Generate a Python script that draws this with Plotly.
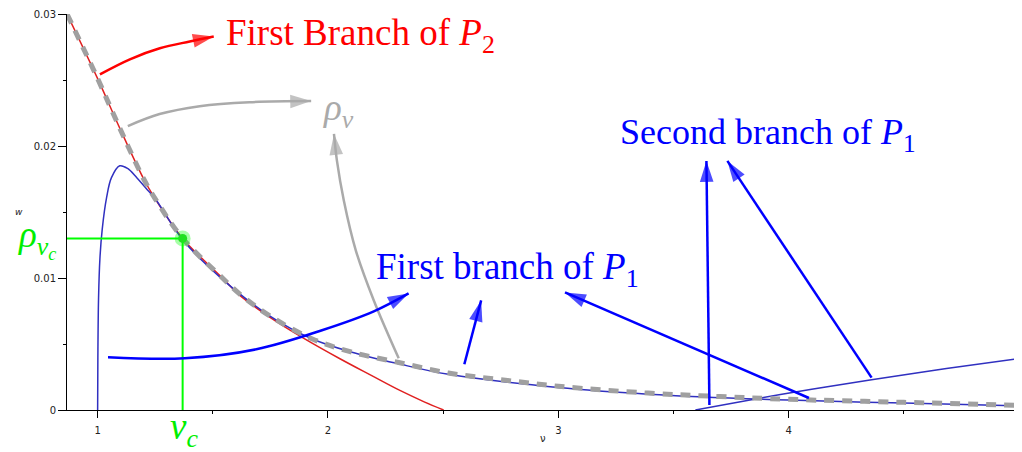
import plotly.graph_objects as go

# ---- curves (nu, w) ----
nu_rho = [0.867, 1.0, 1.1, 1.2, 1.25, 1.369, 1.542, 1.616, 1.75, 1.93, 2.1, 2.307, 2.523, 2.75, 3.0, 3.39, 3.7, 4.0, 4.5, 5.0]
w_rho = [0.0300, 0.0251, 0.0212, 0.0175, 0.0160, 0.0130, 0.0100, 0.0088, 0.0071, 0.0054, 0.0044, 0.0036, 0.0028, 0.0023, 0.0018, 0.00128, 0.00102, 0.00081, 0.00058, 0.00035]

nu_p2 = [0.867, 1.0, 1.1, 1.2, 1.25, 1.369, 1.542, 1.616, 1.75, 1.888, 2.05, 2.19, 2.31, 2.42, 2.502]
w_p2 = [0.0300, 0.0251, 0.0212, 0.0175, 0.0160, 0.0130, 0.0100, 0.0087, 0.0070, 0.0055, 0.0039, 0.0026, 0.0015, 0.0006, 0.0]

nu_p1a = [1.0, 1.001, 1.004, 1.010, 1.020, 1.039, 1.060, 1.096, 1.13, 1.17, 1.21, 1.25, 1.369, 1.542, 1.75, 1.93, 2.1, 2.307, 2.523, 3.0, 3.39, 4.0, 4.5, 5.0]
w_p1a = [0.0, 0.0040, 0.0085, 0.0115, 0.0137, 0.0161, 0.0176, 0.0185, 0.0183, 0.0176, 0.0168, 0.0160, 0.0129, 0.0099, 0.0071, 0.0054, 0.0044, 0.0035, 0.0027, 0.0017, 0.0012, 0.00075, 0.00053, 0.00032]

nu_p1b = [3.595, 3.85, 4.10, 4.36, 4.685, 5.0]
w_p1b = [0.0, 0.00082, 0.00157, 0.00230, 0.00314, 0.0039]

nu_c = 1.369
rho_c = 0.0130

x_ticks = [1, 2, 3, 4, 5]
y_ticks = [0, 0.01, 0.02, 0.03]
y_labels = ["0", "0.01", "0.02", "0.03"]

# ---- annotation arrows (nu, w paths, tip last) ----
arrows = [
    ("red", [1.010, 1.140, 1.270, 1.400, 1.504], [0.02543, 0.02657, 0.02740, 0.02792, 0.02830]),
    ("#aaaaaa", [1.131, 1.269, 1.443, 1.659, 1.927], [0.02151, 0.02242, 0.02302, 0.02332, 0.02340]),
    ("#aaaaaa", [2.307, 2.199, 2.121, 2.069, 2.039, 2.026], [0.00392, 0.00830, 0.01208, 0.01585, 0.01887, 0.02091]),
    ("blue", [1.045, 1.378, 1.689, 1.974, 2.199, 2.350], [0.00400, 0.00392, 0.00460, 0.00604, 0.00747, 0.00883]),
    ("blue", [2.592, 2.665], [0.00347, 0.00830]),
    ("blue", [4.088, 3.029], [0.00091, 0.00891]),
    ("blue", [3.656, 3.643], [0.00038, 0.01887]),
    ("blue", [4.360, 3.734], [0.00245, 0.01887]),
]

fig = go.Figure()

fig.add_trace(go.Scatter(x=nu_p2, y=w_p2, mode="lines", line=dict(color="#e02020", width=1.5, shape="spline"), hoverinfo="skip"))
fig.add_trace(go.Scatter(x=nu_p1a, y=w_p1a, mode="lines", line=dict(color="#3030c0", width=1.5, shape="spline"), hoverinfo="skip"))
fig.add_trace(go.Scatter(x=nu_p1b, y=w_p1b, mode="lines", line=dict(color="#3030c0", width=1.5, shape="spline"), hoverinfo="skip"))
fig.add_trace(go.Scatter(x=nu_rho, y=w_rho, mode="lines", line=dict(color="#a0a0a0", width=5, dash="10px,8px", shape="spline"), hoverinfo="skip"))

# green guide lines + critical point
fig.add_trace(go.Scatter(x=[0.867, nu_c, nu_c], y=[rho_c, rho_c, 0], mode="lines", line=dict(color="#00ff00", width=2), hoverinfo="skip"))
fig.add_trace(go.Scatter(x=[nu_c], y=[rho_c], mode="markers", marker=dict(color="rgba(0,255,0,0.35)", size=16), hoverinfo="skip"))
fig.add_trace(go.Scatter(x=[nu_c], y=[rho_c], mode="markers", marker=dict(color="#20e020", size=9), hoverinfo="skip"))

for col, ax_, ay_ in arrows:
    sizes = [0] * (len(ax_) - 1) + [22]
    fig.add_trace(go.Scatter(
        x=ax_, y=ay_, mode="lines+markers",
        line=dict(color=col, width=2.5, shape="spline"),
        marker=dict(symbol="arrow", size=sizes, angleref="previous", color=col, line=dict(width=0)),
        hoverinfo="skip", cliponaxis=False))

# labels (paper coords from pixel positions in the window)
def px(x):
    return (x - 67) / 955.0

def py(y):
    return (410 - y) / 397.0

serif = "Liberation Serif"
labels = [
    ("First Branch of <i>P</i><sub>2</sub>", 224, 35, "red", 37),
    ("<i>ρ</i><sub><i>ν</i></sub>", 322, 110, "#aaaaaa", 37),
    ("Second branch of <i>P</i><sub>1</sub>", 620, 134, "blue", 36),
    ("First branch of <i>P</i><sub>1</sub>", 375, 269, "blue", 37),
    ("<i>ρ</i><sub><i>ν<sub>c</sub></i></sub>", 16, 239, "#00ee00", 37),
    ("<i>ν</i><sub><i>c</i></sub>", 168, 430, "#00ee00", 37),
]
for txt, x0, y0, col, fs in labels:
    fig.add_annotation(text=txt, x=px(x0), y=py(y0), xref="paper", yref="paper",
                       xanchor="left", yanchor="middle", showarrow=False,
                       font=dict(family=serif, size=fs, color=col))

fig.add_annotation(text="<i>w</i>", x=px(13), y=py(212), xref="paper", yref="paper",
                   showarrow=False, font=dict(family="DejaVu Sans", size=9, color="#222"))
fig.add_annotation(text="ν", x=px(545), y=py(446), xref="paper", yref="paper",
                   showarrow=False, font=dict(family="DejaVu Sans", size=10, color="#222"))

# page body has an 8px margin, so the figure is sized to fit the window
fig.update_layout(
    width=1014, height=444,
    margin=dict(l=59, r=0, t=5, b=42),
    paper_bgcolor="white", plot_bgcolor="white",
    showlegend=False,
    font=dict(family="DejaVu Sans", size=10, color="#222"),
)
fig.update_xaxes(
    range=[0.867, 5.0], tickvals=x_ticks, ticks="outside", ticklen=7, tickcolor="black",
    showline=True, linecolor="black", linewidth=1, showgrid=False, zeroline=False,
    ticklabelstandoff=4, ticklabeloverflow="allow",
    minor=dict(tickvals=[1.5, 2.5, 3.5, 4.5], ticks="outside", ticklen=3, tickcolor="black"),
)
fig.update_yaxes(
    range=[0, 0.03], tickvals=y_ticks, ticktext=y_labels, ticks="outside", ticklen=8, tickcolor="black",
    showline=True, linecolor="black", linewidth=1, showgrid=False, zeroline=False,
    ticklabeloverflow="allow",
    minor=dict(tickvals=[0.005, 0.015, 0.025], ticks="outside", ticklen=3, tickcolor="black"),
)

fig.write_html("out.html")
